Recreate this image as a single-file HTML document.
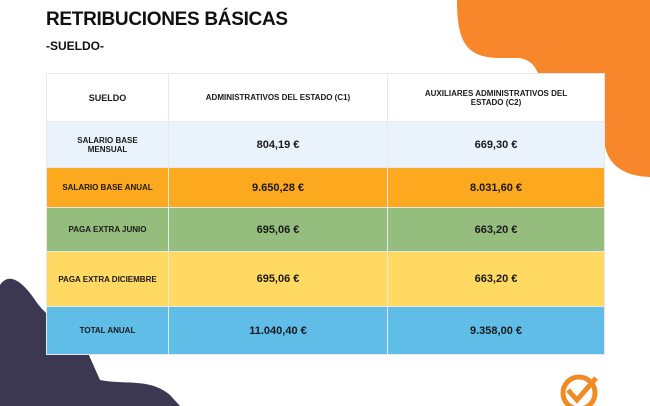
<!DOCTYPE html>
<html><head><meta charset="utf-8"><style>
body{margin:0;width:650px;height:406px;overflow:hidden;background:#fff;font-family:"Liberation Sans",sans-serif;position:relative}
svg.bg{position:absolute;left:0;top:0}
h1{position:absolute;left:46px;top:9px;margin:0;font-size:19px;font-weight:900;color:#111;letter-spacing:-0.3px}
.sub{position:absolute;left:46px;top:39px;font-size:12px;font-weight:bold;color:#111}
table{position:absolute;left:46px;top:73px;width:558px;border-collapse:collapse;table-layout:fixed}
td{border:1.5px solid #e8e8e8;text-align:center;font-weight:bold;color:#1a1a1a;padding:0}
.l{font-size:8px}
.v{font-size:11px}
.h td{background:#fff;height:47px;font-size:8px}
</style></head><body>
<svg class="bg" width="650" height="406">
<path d="M457,0 C457,40 465,58 500,58 L520,58 C530,60 535,66 538,73 L604,73 L604,140 C606,162 620,176 650,177 L650,0 Z" fill="#f8862b"/>
<path d="M0,285 C10,270 25,285 35,300 C45,315 60,325 80,335 L100,380 C125,385 150,378 170,395 L180,406 L0,406 Z" fill="#3c3852"/>
<circle cx="579" cy="393" r="16" fill="none" stroke="#f08a24" stroke-width="5"/>
<path d="M568,390 L577,400 L596,378" fill="none" stroke="#f08a24" stroke-width="5"/>
</svg>
<h1>RETRIBUCIONES BÁSICAS</h1>
<div class="sub">-SUELDO-</div>
<table>
<col style="width:122px"><col style="width:219px"><col style="width:217px">
<tr class="h"><td style="font-size:9px">SUELDO</td><td>ADMINISTRATIVOS DEL ESTADO (C1)</td><td>AUXILIARES ADMINISTRATIVOS DEL<br>ESTADO (C2)</td></tr>
<tr style="background:#eaf3fc;height:46px"><td class="l">SALARIO BASE<br>MENSUAL</td><td class="v">804,19 €</td><td class="v">669,30 €</td></tr>
<tr style="background:#fca91f;height:40px"><td class="l">SALARIO BASE ANUAL</td><td class="v">9.650,28 €</td><td class="v">8.031,60 €</td></tr>
<tr style="background:#94bd7e;height:44px"><td class="l">PAGA EXTRA JUNIO</td><td class="v">695,06 €</td><td class="v">663,20 €</td></tr>
<tr style="background:#ffd962;height:55px"><td class="l">PAGA EXTRA DICIEMBRE</td><td class="v">695,06 €</td><td class="v">663,20 €</td></tr>
<tr style="background:#5fbde8;height:48px"><td class="l">TOTAL ANUAL</td><td class="v">11.040,40 €</td><td class="v">9.358,00 €</td></tr>
</table>
</body></html>
